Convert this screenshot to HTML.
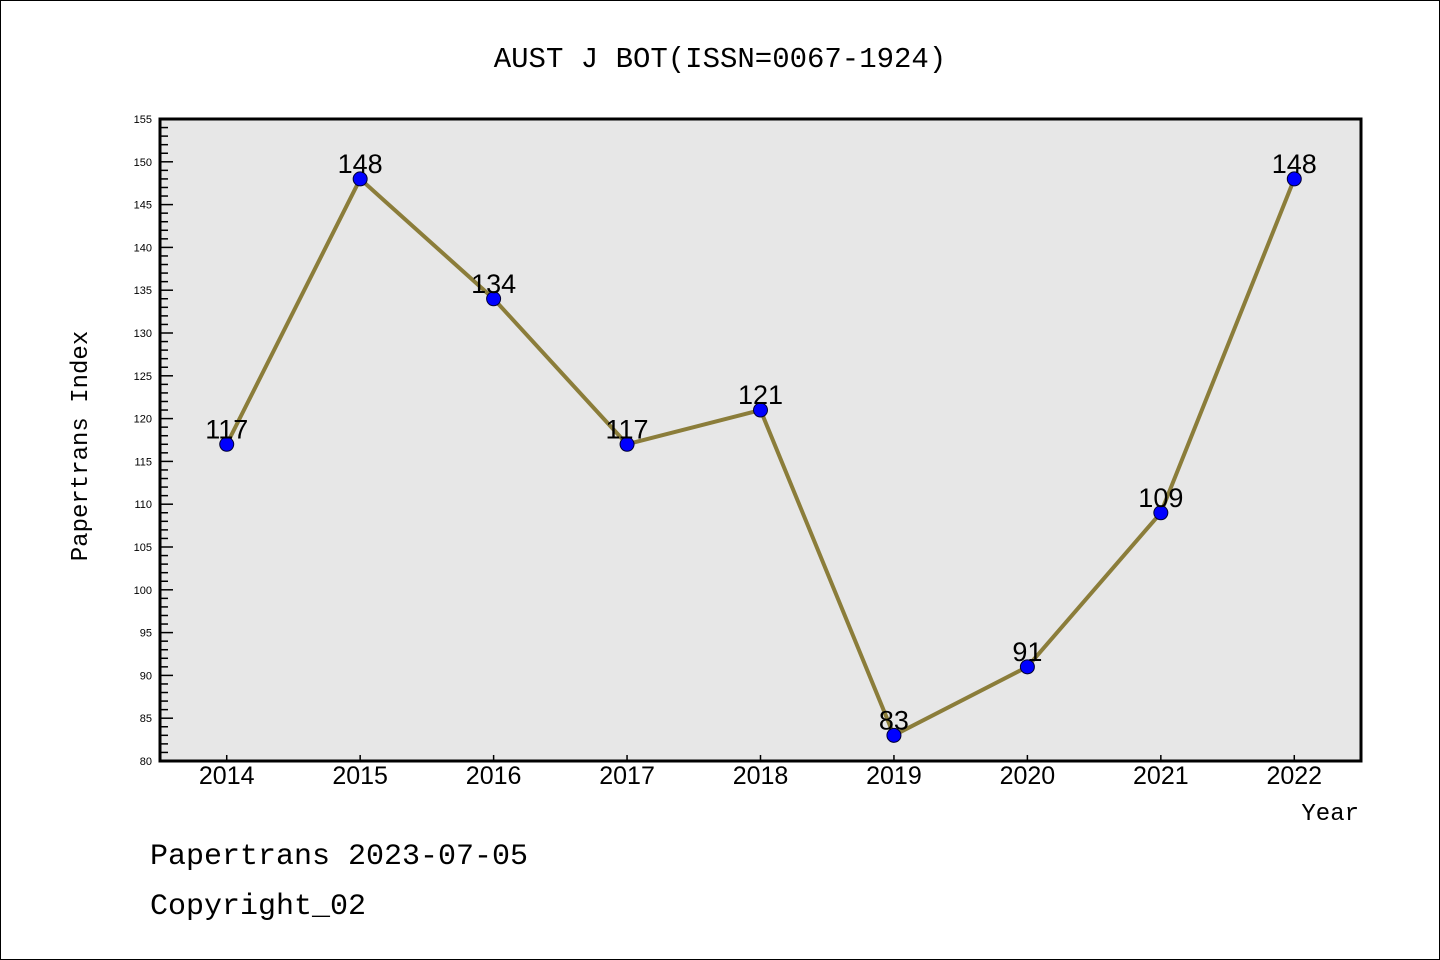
<!DOCTYPE html>
<html><head><meta charset="utf-8"><style>
body{margin:0;background:#fff;}
svg{display:block;}
</style></head><body>
<svg width="1440" height="960" xmlns="http://www.w3.org/2000/svg">
<rect x="0.5" y="0.5" width="1439" height="959" fill="#fff" stroke="#000" stroke-width="1"/>
<text x="720" y="67" text-anchor="middle" font-family="Liberation Mono, monospace" font-size="29">AUST J BOT(ISSN=0067-1924)</text>
<rect x="160" y="119" width="1201" height="642" fill="#e7e7e7"/>
<g id="yaxis"></g>
<g id="xaxis"></g>
<g id="series"></g>
<rect x="160" y="119" width="1201" height="642" fill="none" stroke="#000" stroke-width="3"/>
<text x="87" y="446" text-anchor="middle" transform="rotate(-90 87 446)" font-family="Liberation Mono, monospace" font-size="24">Papertrans Index</text>
<text x="1359" y="820" text-anchor="end" font-family="Liberation Mono, monospace" font-size="24">Year</text>
<text x="150" y="864" font-family="Liberation Mono, monospace" font-size="30">Papertrans 2023-07-05</text>
<text x="150" y="914" font-family="Liberation Mono, monospace" font-size="30">Copyright_02</text>
</svg>
<script>
const years = ["2014","2015","2016","2017","2018","2019","2020","2021","2022"];
const values = [117,148,134,117,121,83,91,109,148];
const yMin = 80, yMax = 155, yStep = 5;
const NS = "http://www.w3.org/2000/svg";
const L = 160, R = 1361, T = 119, B = 761;
const xs = i => L + (R - L) / years.length * (i + 0.5);
const ys = v => B - (v - yMin) / (yMax - yMin) * (B - T);
function mk(tag, attrs, parent){const e=document.createElementNS(NS,tag);for(const k in attrs)e.setAttribute(k,attrs[k]);parent.appendChild(e);return e;}
const ya = document.getElementById('yaxis');
for(let v=yMin; v<=yMax; v++){
  const major = (v - yMin) % yStep === 0;
  const t = mk('line',{x1:L,x2:L+(major?13:8),y1:ys(v),y2:ys(v),stroke:'#000','stroke-width':1.5},ya);
  
  
  if(major){
    const lb = mk('text',{x:152,y:ys(v)+4,'text-anchor':'end','font-family':'Liberation Sans, sans-serif','font-size':11},ya);
    lb.textContent = v;
    
    
  }
}
const xa = document.getElementById('xaxis');
years.forEach((y,i)=>{
  const t = mk('line',{x1:xs(i),x2:xs(i),y1:B,y2:B-6,stroke:'#000','stroke-width':1.5},xa);
  
  
  const lb = mk('text',{x:xs(i),y:784,'text-anchor':'middle','font-family':'Liberation Sans, sans-serif','font-size':25},xa);
  lb.textContent = y;
  
  
});
const s = document.getElementById('series');
const line = mk('polyline',{points:values.map((v,i)=>xs(i)+','+ys(v)).join(' '),fill:'none',stroke:'#8b7d3a','stroke-width':4,'stroke-linejoin':'round'},s);


values.forEach((v,i)=>{
  const c = mk('circle',{cx:xs(i),cy:ys(v),r:7,fill:'#0000ff',stroke:'#000033','stroke-width':1},s);
  
  
  const lb = mk('text',{x:xs(i),y:ys(v)-6,'text-anchor':'middle','font-family':'Liberation Sans, sans-serif','font-size':27},s);
  lb.textContent = v;
  
  
});
</script>
</body></html>
